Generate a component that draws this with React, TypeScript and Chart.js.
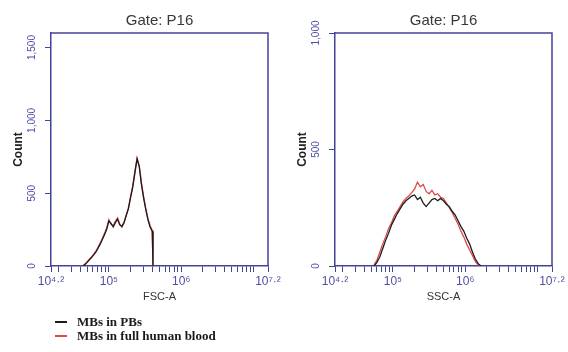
import React, { useEffect, useRef } from 'react';
import { Chart, registerables } from 'chart.js';

Chart.register(...registerables);
Chart.defaults.font.family = '"Liberation Sans", Arial, sans-serif';

// ---------- data ----------
const SERIES_LABELS = ['MBs in PBs', 'MBs in full human blood'];
const SERIES_COLORS = ['#1c1c1c', '#e04848'];
const PANEL_TITLE = 'Gate: P16';

// FSC-A histogram (x as log10 exponent, y as count)
const FSC_LOG = [4.64, 4.67, 4.70, 4.73, 4.76, 4.79, 4.82, 4.85, 4.88, 4.91, 4.94, 4.97, 5.00, 5.03, 5.06, 5.09, 5.12, 5.15, 5.18, 5.21, 5.24, 5.27, 5.30, 5.33, 5.36, 5.39, 5.42, 5.45, 5.48, 5.51, 5.54, 5.57, 5.60, 5.61];
const FSC_PBS = [0, 10, 25, 42, 58, 76, 96, 122, 150, 182, 214, 252, 308, 292, 268, 298, 322, 282, 272, 300, 346, 392, 470, 542, 640, 735, 682, 560, 468, 388, 318, 268, 238, 0];
const FSC_BLOOD = [0, 14, 30, 46, 62, 80, 102, 128, 158, 190, 224, 262, 318, 286, 278, 306, 330, 290, 266, 296, 352, 400, 478, 550, 652, 742, 690, 572, 478, 396, 326, 276, 244, 0];

// SSC-A histogram
const SSC_LOG = [4.74, 4.78, 4.82, 4.86, 4.90, 4.94, 4.98, 5.02, 5.06, 5.10, 5.14, 5.18, 5.22, 5.26, 5.30, 5.34, 5.38, 5.42, 5.46, 5.50, 5.54, 5.58, 5.62, 5.66, 5.70, 5.74, 5.78, 5.82, 5.86, 5.90, 5.94, 5.98, 6.02, 6.06, 6.10, 6.14, 6.18, 6.22];
const SSC_PBS = [0, 15, 40, 75, 110, 140, 175, 200, 225, 245, 265, 280, 290, 300, 305, 285, 295, 270, 255, 270, 285, 290, 280, 290, 280, 265, 255, 235, 220, 195, 170, 150, 120, 95, 60, 30, 10, 0];
const SSC_BLOOD = [5, 25, 60, 95, 125, 160, 185, 215, 235, 255, 275, 290, 300, 315, 330, 360, 340, 350, 320, 310, 325, 305, 310, 295, 290, 270, 250, 230, 205, 180, 150, 125, 95, 70, 45, 20, 5, 0];

// axes
const X_MIN_EXP = 4.2;
const X_MAX_EXP = 7.2;
const X_DECADES = [4, 5, 6, 7];
const X_MINOR_MULTS = [1, 2, 3, 4, 5, 6, 7, 8, 9];
const X_LABELS: { exp: number; text: string }[] = [
  { exp: 4.2, text: '10⁴·²' },
  { exp: 5, text: '10⁵' },
  { exp: 6, text: '10⁶' },
  { exp: 7.2, text: '10⁷·²' },
];
const FSC_Y_TICKS = [0, 500, 1000, 1500];
const FSC_Y_MAX = 1600;
const SSC_Y_TICKS = [0, 500, 1000];
const SSC_Y_MAX = 1000;

// ---------- styling ----------
const AXIS = '#43439c';
const TICK_TXT = '#4e4ea4';

const X_TICK_VALUES: number[] = (() => {
  const lo = Math.pow(10, X_MIN_EXP);
  const hi = Math.pow(10, X_MAX_EXP);
  const out: number[] = [lo];
  X_DECADES.forEach((d) => {
    X_MINOR_MULTS.forEach((m) => {
      const v = m * Math.pow(10, d);
      if (v > lo * 1.0001 && v < hi * 0.9999) out.push(v);
    });
  });
  out.push(hi);
  return out;
})();

function labelFor(v: number): string {
  const e = Math.log10(v);
  const hit = X_LABELS.find((l) => Math.abs(l.exp - e) < 1e-6);
  return hit ? hit.text : '';
}

const boxPlugin = {
  id: 'plotBox',
  afterDatasetsDraw(chart: any) {
    const { ctx, chartArea: a } = chart;
    ctx.save();
    ctx.strokeStyle = AXIS;
    ctx.lineWidth = 1.5;
    ctx.beginPath();
    ctx.moveTo(a.left, a.top);
    ctx.lineTo(a.right, a.top);
    ctx.lineTo(a.right, a.bottom);
    ctx.stroke();
    ctx.restore();
  },
};

const stackedLegend = {
  id: 'stackedLegend',
  afterDraw(chart: any, _args: any, opts: any) {
    if (!opts || !opts.show) return;
    const { ctx, chartArea: a } = chart;
    chart.data.datasets.forEach((ds: any, i: number) => {
      const y = a.bottom + 56 + i * 14;
      ctx.save();
      ctx.strokeStyle = ds.borderColor;
      ctx.lineWidth = 2;
      ctx.beginPath();
      ctx.moveTo(a.left + 4, y);
      ctx.lineTo(a.left + 16, y);
      ctx.stroke();
      ctx.fillStyle = '#1a1a1a';
      ctx.font = 'bold 13px "Liberation Serif", "Times New Roman", serif';
      ctx.textBaseline = 'middle';
      ctx.textAlign = 'left';
      ctx.fillText(ds.label, a.left + 26, y + 1);
      ctx.restore();
    });
  },
};

type PanelProps = {
  logs: number[];
  series: number[][];
  xTitle: string;
  yTicks: number[];
  yMax: number;
  showLegend: boolean;
};

function Panel({ logs, series, xTitle, yTicks, yMax, showLegend }: PanelProps) {
  const ref = useRef<HTMLCanvasElement | null>(null);
  useEffect(() => {
    if (!ref.current) return;
    const datasets = series.map((vals, i) => ({
      label: SERIES_LABELS[i],
      data: vals.map((c, j) => ({ x: Math.pow(10, logs[j]), y: c })),
      borderColor: SERIES_COLORS[i],
      backgroundColor: SERIES_COLORS[i],
      borderWidth: 1.3,
      pointRadius: 0,
      tension: 0,
      fill: false,
    }));
    const chart = new Chart(ref.current, {
      type: 'line',
      data: { datasets },
      plugins: [boxPlugin, stackedLegend],
      options: {
        animation: false,
        responsive: false,
        maintainAspectRatio: false,
        layout: { padding: { top: 0, right: 16, bottom: 46, left: 0 } },
        plugins: {
          legend: { display: false },
          tooltip: { enabled: false },
          title: {
            display: true,
            text: PANEL_TITLE,
            fullSize: false,
            color: '#383838',
            font: { size: 15, weight: 'normal' },
            padding: { top: 12, bottom: 3 },
          },
          stackedLegend: { show: showLegend },
        } as any,
        scales: {
          x: {
            type: 'logarithmic',
            min: Math.pow(10, X_MIN_EXP),
            max: Math.pow(10, X_MAX_EXP),
            afterBuildTicks: (s: any) => {
              s.ticks = X_TICK_VALUES.map((v) => ({ value: v }));
            },
            afterFit: (s: any) => {
              s.height = 40;
            },
            ticks: {
              autoSkip: false,
              maxRotation: 0,
              minRotation: 0,
              padding: 2,
              color: TICK_TXT,
              font: { size: 12 },
              callback: (v: any) => labelFor(Number(v)),
            },
            grid: { drawOnChartArea: false, tickLength: 6, color: AXIS, lineWidth: 1 },
            border: { color: AXIS, width: 1.5 },
            title: {
              display: true,
              text: xTitle,
              color: '#333',
              font: { size: 11 },
              padding: { top: 0, bottom: 2 },
            },
          } as any,
          y: {
            type: 'linear',
            min: 0,
            max: yMax,
            afterBuildTicks: (s: any) => {
              s.ticks = yTicks.map((v) => ({ value: v }));
            },
            afterFit: (s: any) => {
              s.width = 51;
            },
            ticks: {
              minRotation: 90,
              maxRotation: 90,
              crossAlign: 'center',
              padding: 0,
              color: TICK_TXT,
              font: { size: 10 },
              callback: (v: any) => Number(v).toLocaleString('en-US'),
            },
            grid: { drawOnChartArea: false, tickLength: 6, color: AXIS, lineWidth: 1 },
            border: { color: AXIS, width: 1.5 },
            title: {
              display: true,
              text: 'Count',
              color: '#222',
              font: { size: 12, weight: 'bold' },
              padding: { top: 11, bottom: 0 },
            },
          } as any,
        },
      },
    });
    return () => chart.destroy();
  }, []);
  return <canvas ref={ref} width={284} height={352} style={{ display: 'block', width: 284, height: 352 }} />;
}

export default function App() {
  return (
    <div style={{ position: 'absolute', left: 0, top: 0, width: 568, height: 352, display: 'flex', background: '#fff' }}>
      <Panel logs={FSC_LOG} series={[FSC_PBS, FSC_BLOOD]} xTitle="FSC-A" yTicks={FSC_Y_TICKS} yMax={FSC_Y_MAX} showLegend={true} />
      <Panel logs={SSC_LOG} series={[SSC_PBS, SSC_BLOOD]} xTitle="SSC-A" yTicks={SSC_Y_TICKS} yMax={SSC_Y_MAX} showLegend={false} />
    </div>
  );
}
